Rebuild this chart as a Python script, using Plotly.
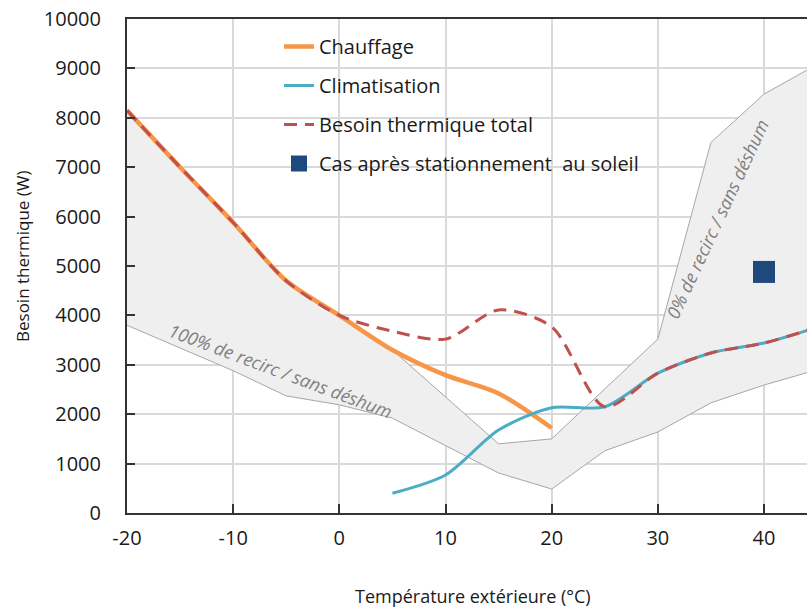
import plotly.graph_objects as go

# --- data ---
temp = [-20, -15, -10, -5, 0, 5, 10, 15, 20]
chauffage = [8150, 7000, 5880, 4700, 4000, 3300, 2790, 2420, 1720]

temp_clim = [5, 10, 15, 20, 25, 30, 35, 40, 45]
climatisation = [400, 770, 1680, 2130, 2150, 2830, 3240, 3440, 3760]

temp_total = [-20, -15, -10, -5, 0, 5, 10, 15, 20, 25, 30, 35, 40, 45]
besoin_total = [8150, 7000, 5880, 4700, 4000, 3680, 3520, 4110, 3770, 2150, 2830, 3240, 3440, 3760]

soleil_x = [40]
soleil_y = [4880]

# envelope of the grey zone (0% recirc upper edge, 100% recirc lower edge)
env_up_x = [-20, -15, -10, -5, 0, 5, 15, 20, 30, 35, 40, 45]
env_up_y = [8150, 7000, 5880, 4700, 4000, 3300, 1400, 1500, 3520, 7500, 8480, 9080]
env_lo_x = [-20, -10, -5, 0, 5, 15, 20, 25, 30, 35, 40, 45]
env_lo_y = [3800, 2880, 2370, 2190, 1920, 810, 485, 1260, 1640, 2230, 2590, 2900]

x_ticks = [-20, -10, 0, 10, 20, 30, 40]
y_ticks = list(range(0, 10001, 1000))

FONT = "Open Sans"
TXT = "#1a1a1a"

fig = go.Figure()

fig.add_trace(go.Scatter(
    x=env_up_x + env_lo_x[::-1],
    y=env_up_y + env_lo_y[::-1],
    fill="toself", fillcolor="#efefef",
    line=dict(color="#a6a6a6", width=1),
    mode="lines", showlegend=False, hoverinfo="skip"))

fig.add_trace(go.Scatter(
    x=temp, y=chauffage, name="Chauffage", mode="lines",
    line=dict(color="#f79646", width=4.5, shape="spline", smoothing=0.8),
    legendgroup="a"))
fig.add_trace(go.Scatter(
    x=temp_clim, y=climatisation, name="Climatisation", mode="lines",
    line=dict(color="#4bacc6", width=3, shape="spline", smoothing=0.8),
    legendgroup="b"))
fig.add_trace(go.Scatter(
    x=temp_total, y=besoin_total, name="Besoin thermique total", mode="lines",
    line=dict(color="#c0504d", width=3, dash="13px,8px", shape="spline", smoothing=0.8),
    legendgroup="c"))
fig.add_trace(go.Scatter(
    x=soleil_x, y=soleil_y, name="Cas après stationnement  au soleil", mode="markers",
    marker=dict(symbol="square", size=22, color="#1f497d"),
    legendgroup="d"))

# white block behind the legend that hides the gridlines (as in the reference)
fig.add_shape(type="rect", xref="paper", yref="paper",
              x0=(224 - 127) / 680, x1=(670 - 127) / 680,
              y0=(513 - 183) / 494, y1=0.996,
              fillcolor="white", line=dict(width=0), layer="between")

fig.add_annotation(x=-5.5, y=2870, text="<i>100% de recirc / sans déshum</i>",
                   textangle=20.5, showarrow=False,
                   font=dict(family=FONT, size=18, color="#808080"))
fig.add_annotation(x=35.6, y=5950, text="<i>0% de recirc / sans déshum</i>",
                   textangle=-65, showarrow=False,
                   font=dict(family=FONT, size=18, color="#808080"))

# axis titles
fig.add_annotation(xref="paper", yref="paper", x=(473 - 127) / 680, y=(513 - 596) / 494,
                   xanchor="center", yanchor="middle", showarrow=False,
                   text="Température extérieure (°C)",
                   font=dict(family=FONT, size=18, color=TXT))
fig.add_annotation(xref="paper", yref="paper", x=(22 - 127) / 680, y=(513 - 256) / 494,
                   xanchor="center", yanchor="middle", showarrow=False, textangle=-90,
                   text="Besoin thermique (W)",
                   font=dict(family=FONT, size=17, color=TXT))

fig.update_layout(
    width=807, height=607,
    margin=dict(l=127, r=0, t=19, b=94, autoexpand=False),
    paper_bgcolor="white", plot_bgcolor="white",
    font=dict(family=FONT, size=20, color=TXT),
    showlegend=True,
    legend=dict(x=(279 - 127) / 680, y=1 - 8 / 494, xanchor="left", yanchor="top",
                bgcolor="rgba(0,0,0,0)", borderwidth=0, tracegroupgap=10,
                font=dict(family=FONT, size=20, color=TXT),
                itemwidth=30),
)

fig.update_xaxes(
    range=[-20, 44.05], tickvals=x_ticks, ticktext=[str(v) for v in x_ticks],
    showgrid=True, gridcolor="#d9d9d9", gridwidth=1.5,
    showline=True, linecolor="#333333", linewidth=2, mirror=True,
    ticks="inside", ticklen=9, tickcolor="#333333", tickwidth=2,
    ticklabelstandoff=6, zeroline=False, automargin=False,
    tickfont=dict(family=FONT, size=20, color=TXT),
)
fig.update_yaxes(
    range=[0, 10000], tickvals=y_ticks, ticktext=[str(v) for v in y_ticks],
    showgrid=True, gridcolor="#d9d9d9", gridwidth=1.5,
    showline=True, linecolor="#333333", linewidth=2,
    ticks="inside", ticklen=8, tickcolor="#333333", tickwidth=2,
    ticklabelstandoff=20, zeroline=False, automargin=False,
    tickfont=dict(family=FONT, size=20, color=TXT),
)

fig.write_html("out.html", config={"displayModeBar": False},
               post_script="document.body.style.margin='0';document.body.style.overflow='hidden';")
